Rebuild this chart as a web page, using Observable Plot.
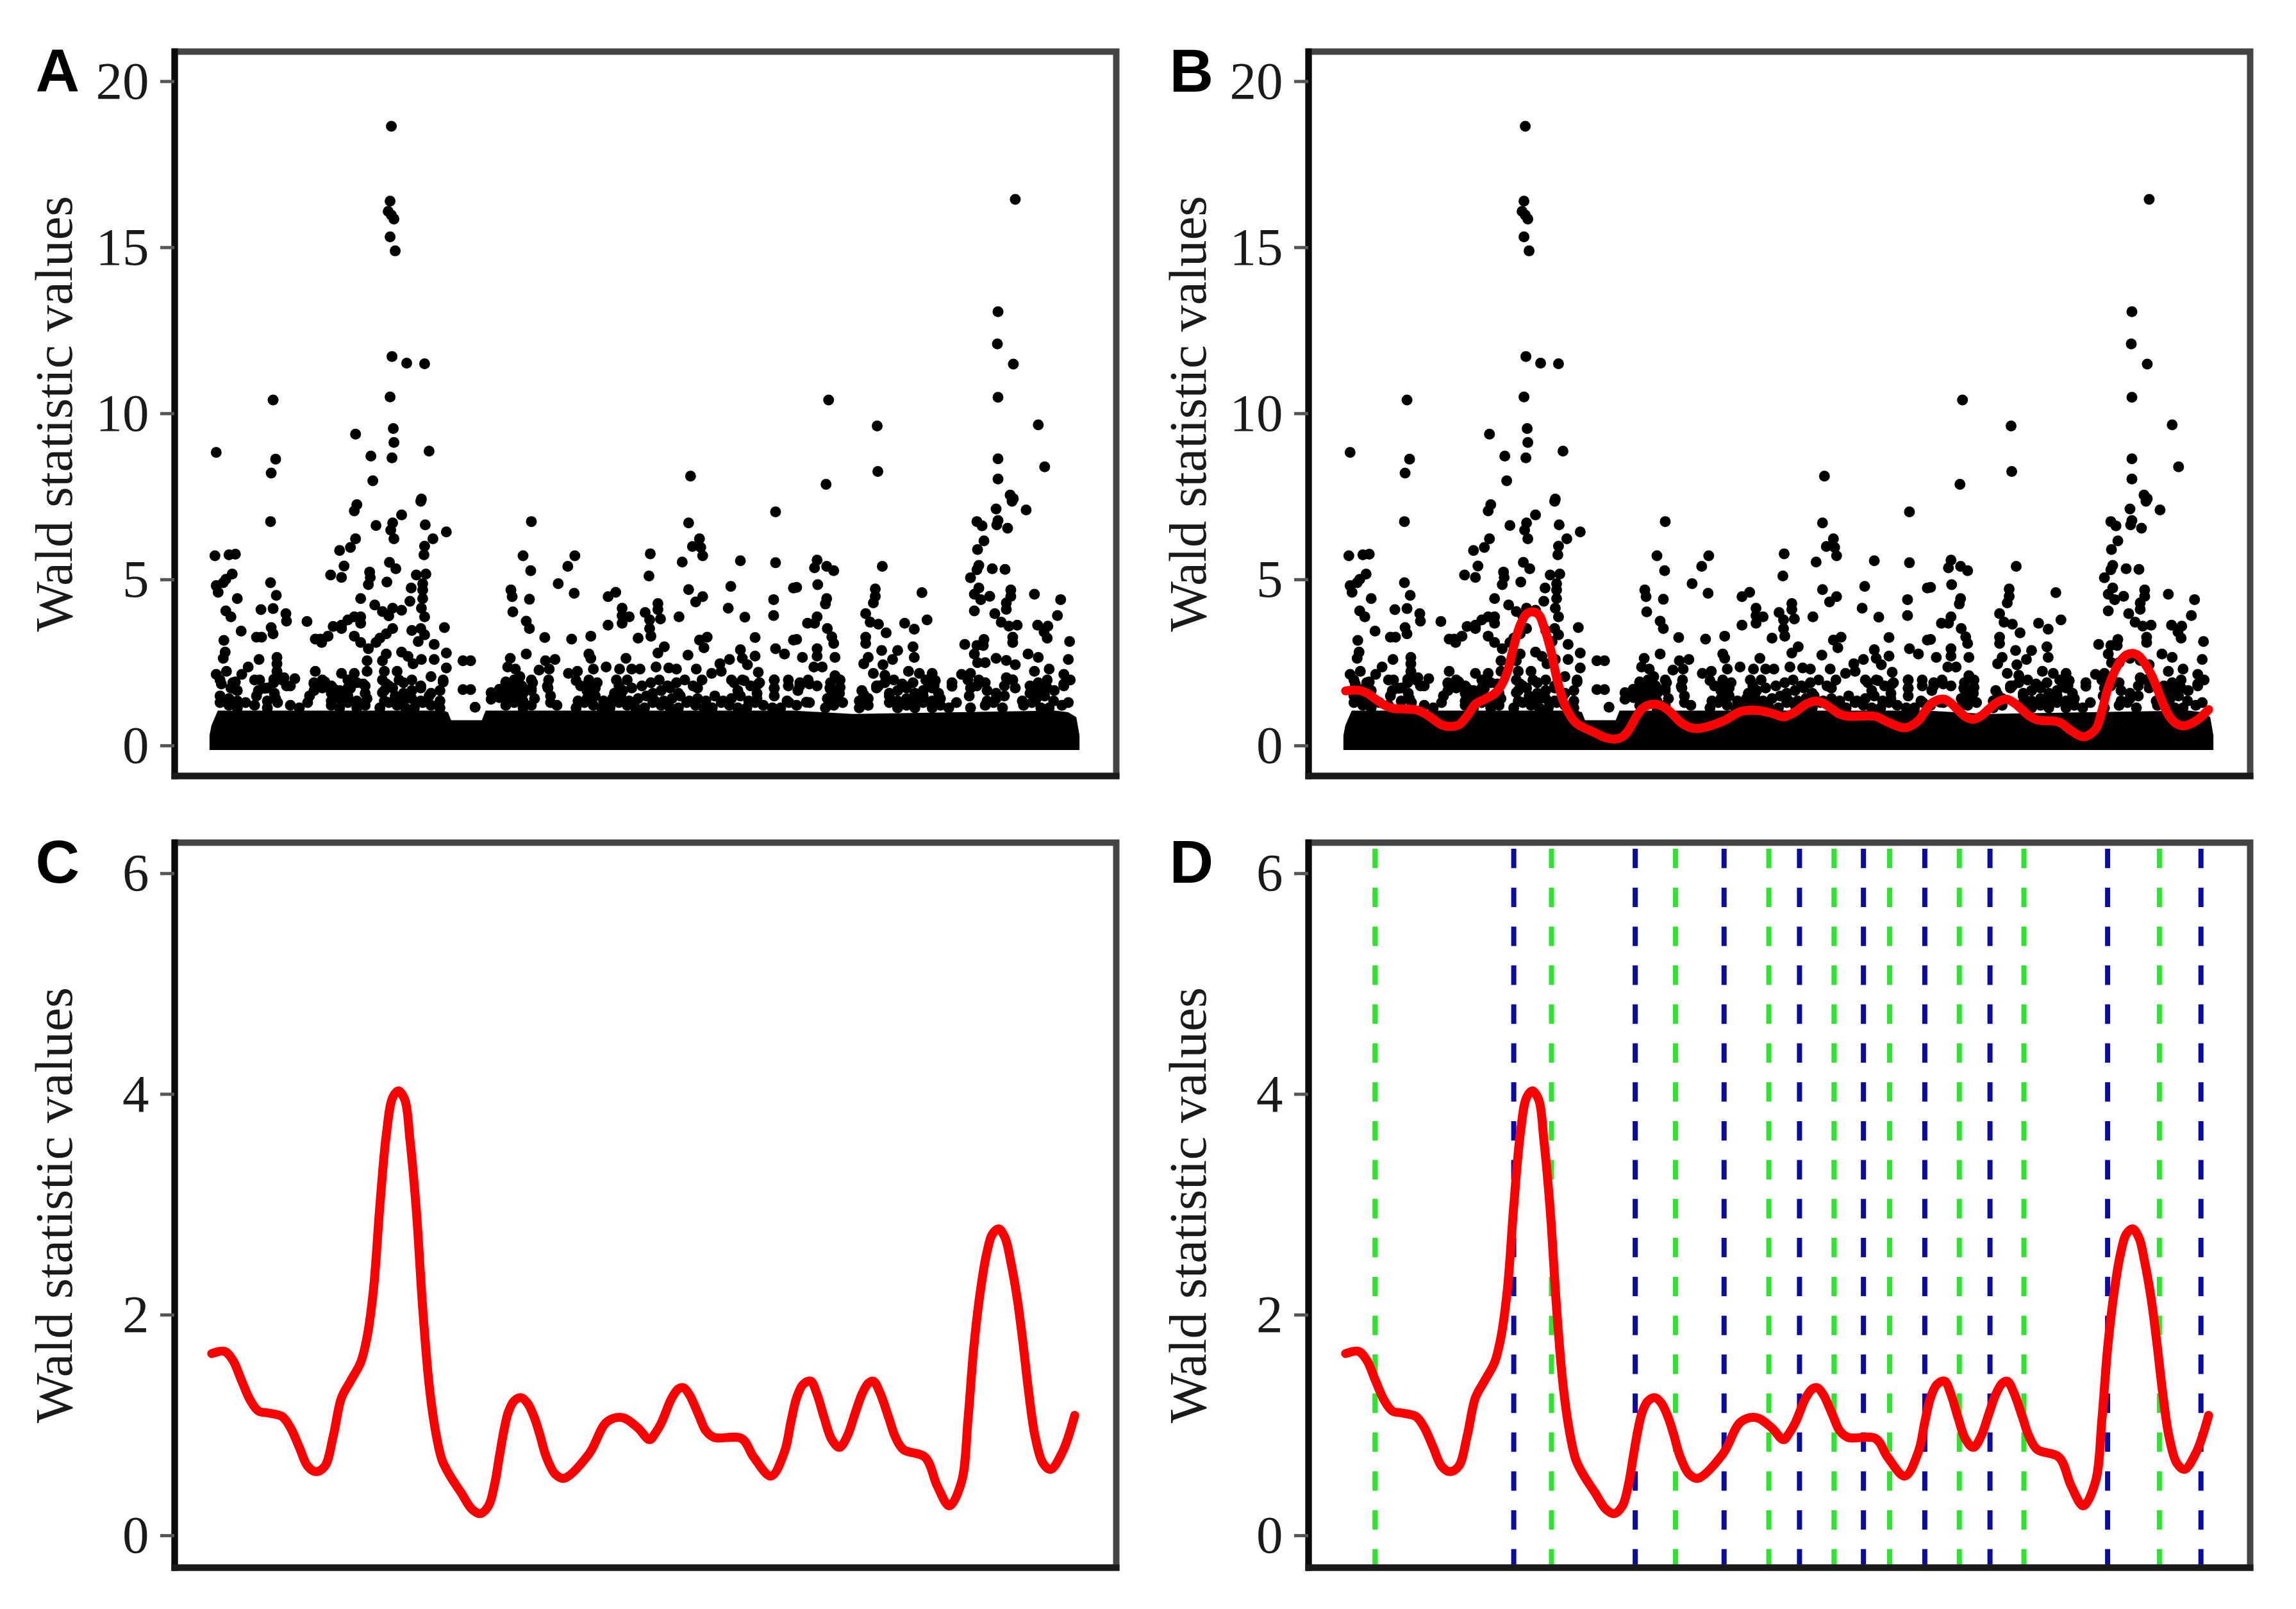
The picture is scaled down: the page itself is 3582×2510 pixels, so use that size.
<!DOCTYPE html>
<html><head><meta charset="utf-8">
<script src="https://cdn.jsdelivr.net/npm/d3@7"></script>
<script src="https://cdn.jsdelivr.net/npm/@observablehq/plot@0.6"></script>
<style>html,body{margin:0;padding:0;background:#fff}#c{position:relative;width:3582px;height:2510px;overflow:hidden}#c>svg{position:absolute;max-width:none}</style>
</head><body><div id="c"></div>
<script>
// Individually readable points: [position, Wald statistic]
const sparsePoints=[[284,18.65],[282,16.4],[279,16.09],[284,15.98],[288,15.86],[282,15.32],[290,14.9],[285,11.72],[308,11.52],[336,11.5],[99,10.41],[282,10.5],[228,9.38],[287,9.55],[288,9.13],[285,8.67],[252,8.72],[10,8.83],[343,8.87],[103,8.63],[96,8.21],[255,7.98],[331,7.43],
[1260,16.45],[1233,13.07],[1232,12.1],[1257,11.49],[1233,10.49],[968,10.41],[1044,9.63],[1296,9.66],[1306,8.4],[1045,8.26],[1233,8.64],[1233,8.03],[964,7.87],[752,8.12],[1252,7.55],[1257,7.44]];
const midLeftPoints=[[95,6.75],[8,5.72],[30,5.75],[40,5.77],[35,5.17],[25,5.01],[10,4.82],[13,4.62],[21,4.91],[43,4.43],[95,4.91],[104,4.53],[80,4.1],[99,4.13],[25,4.06],[33,3.88],[119,3.98],[120,3.75],[152,3.74],[49,3.45],[96,3.56],[99,3.37],[73,3.27],[81,3.27],[22,3.17],[24,2.82],[21,2.63],[77,2.6],[105,2.66],[105,2.47],[230,7.26],[226,7.07],[330,7.36],[300,6.95],[260,6.63],[286,6.71],[283,6.49],[288,6.23],[337,6.65],[370,6.44],[349,6.23],[336,6.01],[335,5.75],[228,6.23],[220,5.97],[203,5.88],[210,5.41],[189,5.14],[206,5.07],[250,5.23],[251,5.07],[248,4.85],[277,4.93],[281,5.52],[291,5.33],[323,5.14],[338,5.17],[315,4.75],[333,4.69],[333,4.88],[333,4.43],[236,4.43],[313,4.35],[258,4.24],[270,4.04],[280,3.91],[286,4.14],[300,4.08],[331,4.14],[336,3.88],[236,3.88],[226,3.88],[236,3.69],[216,3.79],[206,3.63],[193,3.59],[206,3.53],[185,3.3],[173,3.21],[165,3.21],[175,3.11],[226,3.3],[236,3.11],[248,2.92],[286,3.53],[276,3.37],[266,3.24],[260,3.11],[316,3.47],[330,3.53],[336,3.34],[326,3.14],[351,3.05],[367,3.56],[370,2.79],[370,2.34],[276,2.76],[300,2.82],[310,2.69],[318,2.47],[331,2.6],[351,2.6],[396,2.56],[408,2.56],[396,1.69],[408,1.69],[415,1.16],[346,2.08],[365,1.92],[246,2.56],[270,2.56],[10,2.15],[26,2.24],[60,2.37],[50,2.15],[18,1.86],[40,1.92],[40,1.7],[70,1.98],[105,2.24],[100,2],[116,2.05],[133,2.02],[120,1.8],[86,1.73],[165,2.24],[163,1.86],[180,1.92],[193,1.73],[206,2.18],[226,2.18],[246,2.24],[273,2.24],[293,2.24],[296,1.98],[240,1.86],[276,1.86],[270,1.6],[220,1.73],[440,1.6],[440,1.4],[453,1.7],[453,1.45]];
const midCentrePoints=[[503,6.75],[749,6.71],[885,7.04],[490,5.72],[571,5.72],[560,5.4],[502,5.27],[689,5.78],[687,5.11],[766,6.23],[755,6],[768,5.97],[771,5.72],[739,5.53],[830,5.57],[885,5.51],[545,4.88],[570,4.59],[471,4.69],[473,4.49],[500,4.41],[815,4.8],[913,4.75],[635,4.62],[623,4.49],[749,4.7],[771,4.49],[760,4.33],[882,4.4],[701,4.28],[701,4.1],[645,4.14],[656,3.88],[645,3.92],[645,3.69],[681,4.01],[688,3.79],[688,3.53],[705,3.82],[474,4.03],[734,3.88],[811,4.14],[837,3.87],[882,3.92],[623,3.63],[495,3.75],[500,3.53],[524,3.26],[566,3.21],[596,3.3],[670,3.24],[690,3.3],[766,3.18],[778,3.27],[773,2.95],[853,3.26],[913,3.18],[711,2.98],[701,2.79],[495,2.76],[593,2.76],[596,2.63],[830,2.89],[885,2.92],[899,2.76],[748,2.73],[853,2.7],[813,2.6],[798,2.47],[470,2.63],[466,2.37],[478,2.31],[485,2.08],[525,2.56],[540,2.6],[531,2.31],[515,2.28],[651,2.63],[620,2.37],[600,2.31],[641,2.31],[660,2.31],[673,2.31],[698,2.37],[718,2.34],[730,2.31],[761,2.31],[785,2.18],[800,2.24],[561,2.18],[575,2.24],[573,1.96],[593,1.92],[636,1.98],[503,1.98],[503,1.73],[463,1.92],[528,1.79],[833,2.63],[841,2.44],[858,2.21],[816,1.98],[836,1.96],[858,1.86],[883,1.98],[905,1.98],[883,1.73]];
const midRightPoints=[[1255,7.36],[1230,7.13],[1277,7.1],[1200,6.75],[1208,6.62],[1233,6.78],[1231,6.65],[1248,6.55],[1211,6.17],[1201,5.91],[1203,5.43],[1200,5.3],[1224,5.33],[1244,5.31],[1190,5.06],[950,5.59],[946,5.36],[965,5.4],[976,5.27],[1052,5.4],[918,4.77],[951,4.85],[1041,4.72],[1041,4.5],[1038,4.3],[1114,4.61],[965,4.43],[963,4.27],[1203,4.75],[1196,4.56],[1220,4.5],[1206,4.4],[1253,4.69],[1253,4.5],[1246,4.3],[1246,4.11],[1290,4.56],[1331,4.4],[1196,4.06],[1326,3.92],[1122,3.79],[1087,3.69],[1102,3.51],[950,3.88],[935,3.69],[946,3.69],[1026,3.98],[1033,3.72],[1046,3.66],[1058,3.4],[1228,3.98],[1238,3.72],[1250,3.6],[1263,3.63],[966,3.53],[973,3.28],[976,3.08],[918,3.2],[1026,3.27],[1026,3.08],[1295,3.63],[1311,3.6],[1305,3.43],[1310,3.24],[1256,3.27],[1256,3.11],[1211,3.2],[1181,3.05],[1200,3.02],[1210,3.02],[1345,3.14],[1343,2.6],[1051,2.87],[1076,2.87],[1100,2.98],[1102,2.66],[950,2.92],[950,2.7],[927,2.66],[978,2.66],[945,2.37],[958,2.37],[1030,2.66],[1023,2.47],[1053,2.44],[1068,2.6],[1038,2.18],[978,2.11],[986,1.76],[971,1.7],[938,1.86],[923,1.8],[1196,2.76],[1230,2.63],[1246,2.57],[1260,2.44],[1280,2.76],[1296,2.66],[1213,2.5],[1201,2.5],[1130,2.18],[1093,2.24],[1110,2.18],[1135,1.96],[1123,1.92],[1161,1.79],[1176,2.15],[1190,2.18],[1203,1.98],[1246,2.05],[1256,1.98],[1290,2.24],[1313,2.31],[1336,2.15],[1336,1.86],[1296,1.86],[1056,2.12],[1083,1.86],[1023,1.54],[1020,1.34],[1046,1.8],[933,1.31],[973,1.41]];
// Thick band: at each level, the positions where the picture is black
const bandLevels=[1.98,1.9,1.8,1.74,1.66,1.58,1.5,1.42,1.35,1.3,1.22,1.14];
const bandRows=[
[16,78,113,176,216,270,316,365,476,530,593,653,703,743,770,833,883,936,986,1070,1120,1186,1256,1310,1346],
[36,100,163,230,303,463,505,606,690,730,820,860,923,971,1056,1100,1161,1213,1296],
[126,190,243,280,330,488,580,640,676,716,756,846,905,950,1043,1086,1133,1200,1243,1283,1336],
[33,90,176,216,286,330,476,529,603,660,720,763,883,970,1043,1090,1130,1190,1260,1310],
[43,76,163,203,273,316,360,463,503,590,646,706,826,920,1020,1076,1116,1216,1296,1321],
[101,190,243,303,346,490,633,693,733,856,985,1063,1103,1140,1230,1283],
[16,73,156,216,290,343,476,533,603,643,683,736,790,830,883,980,1063,1116,1188,1243,1306],
[30,103,203,246,316,463,508,590,630,670,723,763,816,856,966,1030,1090,1143,1230,1293],
[43,90,190,230,273,303,330,360,490,576,616,656,696,710,750,776,803,843,903,1016,1076,1103,1130,1216,1271,1320],
[16,56,106,153,216,280,333,476,533,586,640,693,746,800,853,906,938,990,1063,1116,1168,1226,1286,1343],
[30,70,126,190,243,293,346,463,503,543,600,653,706,760,813,866,918,976,1030,1090,1143,1213,1273,1333],
[43,90,140,203,230,266,306,320,360,490,573,613,626,666,680,720,733,773,786,826,840,880,893,963,1016,1076,1103,1130,1156,1190,1240,1300,1313]];
// The overplotted mass near zero cannot be read point by point: its upper edge
const massPos=[0,3,13,366,373,378,426,432,453,913,1006,1323,1343,1356,1361];
const massTop=[0.3,0.6,1.05,1.05,1.0,0.76,0.76,1.05,1.05,1.05,0.95,1.05,1.0,0.85,0.3];
const massFloor=-0.14;
// Smoothed curve
const curvePos=[3,23,36,50,63,76,93,113,126,140,153,166,180,193,206,220,236,246,256,266,276,286,295,305,313,323,333,343,353,363,376,393,410,423,436,446,453,460,467,476,487,497,507,516,526,540,554,593,621,645,669,688,697,707,722,733,741,750,765,776,789,832,851,878,899,909,918,928,940,950,961,973,985,997,1009,1020,1030,1038,1048,1062,1072,1085,1119,1138,1157,1176,1186,1195,1205,1215,1224,1234,1244,1253,1263,1272,1281,1291,1303,1315,1334,1353];
const curveVal=[1.65,1.67,1.59,1.4,1.23,1.13,1.11,1.08,0.98,0.8,0.63,0.58,0.63,0.9,1.25,1.4,1.57,1.8,2.23,2.99,3.63,3.97,4.03,3.95,3.59,2.95,2.06,1.37,0.95,0.69,0.54,0.39,0.24,0.2,0.27,0.48,0.72,0.95,1.12,1.22,1.25,1.2,1.08,0.92,0.72,0.56,0.52,0.74,1.03,1.07,0.98,0.87,0.93,1.03,1.24,1.33,1.34,1.28,1.09,0.95,0.89,0.88,0.71,0.54,0.76,1.03,1.25,1.37,1.4,1.28,1.07,0.87,0.8,0.9,1.1,1.28,1.38,1.4,1.3,1.07,0.9,0.78,0.71,0.45,0.27,0.49,1.05,1.7,2.2,2.55,2.73,2.78,2.7,2.48,2.15,1.75,1.3,0.9,0.66,0.6,0.76,1.09];
const greenBreaks=[49,325,519,665,767,854,963,1064,1276];
const blueBreaks=[266,456,595,713,813,909,1011,1195,1341];
const ticksTop=[0,5,10,15,20];
const ticksBottom=[0,2,4,6];
const yLabel="Wald statistic values";
const posDomain=[-55,1418];
const topDomain=[-0.91,20.9], bottomDomain=[-0.29,6.28];

const rowPoints=bandRows.flatMap((xs,i)=>xs.map(x=>({x,y:bandLevels[i]})));
const points=[...sparsePoints,...midLeftPoints,...midCentrePoints,...midRightPoints].map(([x,y])=>({x,y})).concat(rowPoints);
const mass=massPos.map((x,i)=>({x,y:massTop[i]}));
const curve=curvePos.map((x,i)=>({x,y:curveVal[i]}));

const scatter=[Plot.areaY(mass,{x:"x",y1:massFloor,y2:"y",fill:"#000"}),Plot.dot(points,{x:"x",y:"y",r:8.5,fill:"#000",stroke:"none"})];
const redLine=Plot.line(curve,{x:"x",y:"y",stroke:"#ff0000",strokeWidth:14,curve:"catmull-rom"});
const dashes=(vals,color)=>Plot.ruleX(vals,{stroke:color,strokeWidth:8,strokeDasharray:"30.35 30.35",strokeDashoffset:50.7});

function panel(letter,left,top,w,h,mL,mR,mT,mB,domain,ticks,marks){
  const svg=Plot.plot({width:w,height:h,marginLeft:mL,marginRight:mR,marginTop:mT,marginBottom:mB,
    style:{background:"#fff",overflow:"visible"},
    x:{domain:posDomain,axis:null},y:{domain,ticks},
    marks:[...marks,
      Plot.frame({stroke:"#444",strokeWidth:10}),
      Plot.frame({anchor:"left",stroke:"#0a0a0a",strokeWidth:10}),
      Plot.frame({anchor:"bottom",stroke:"#1a1a1a",strokeWidth:10}),
      Plot.axisY(ticks,{anchor:"left",tickSize:22,tickPadding:18,fontSize:83,fontFamily:"Liberation Serif",fill:"#1a1a1a",stroke:"#555",strokeWidth:5,tickFormat:d=>String(d),label:yLabel,labelAnchor:"center",labelArrow:"none",labelOffset:219}),
      Plot.text([letter],{frameAnchor:"top-left",dx:-217,dy:-5,textAnchor:"start",lineAnchor:"top",fontSize:95,fontWeight:"bold",fontFamily:"Liberation Sans",fill:"#000"})
    ]});
  svg.style.left=left+"px";svg.style.top=top+"px";
  document.getElementById("c").appendChild(svg);
}
panel("A",0,0,1791,1255,272,50,80,45,topDomain,ticksTop,scatter);
panel("B",1791,0,1791,1255,250,72,80,45,topDomain,ticksTop,[...scatter,redLine]);
panel("C",0,1255,1791,1255,272,50,59,65,bottomDomain,ticksBottom,[redLine]);
panel("D",1791,1255,1791,1255,250,72,59,65,bottomDomain,ticksBottom,[dashes(greenBreaks,"#2be62b"),dashes(blueBreaks,"#0a0aa5"),redLine]);
</script></body></html>
